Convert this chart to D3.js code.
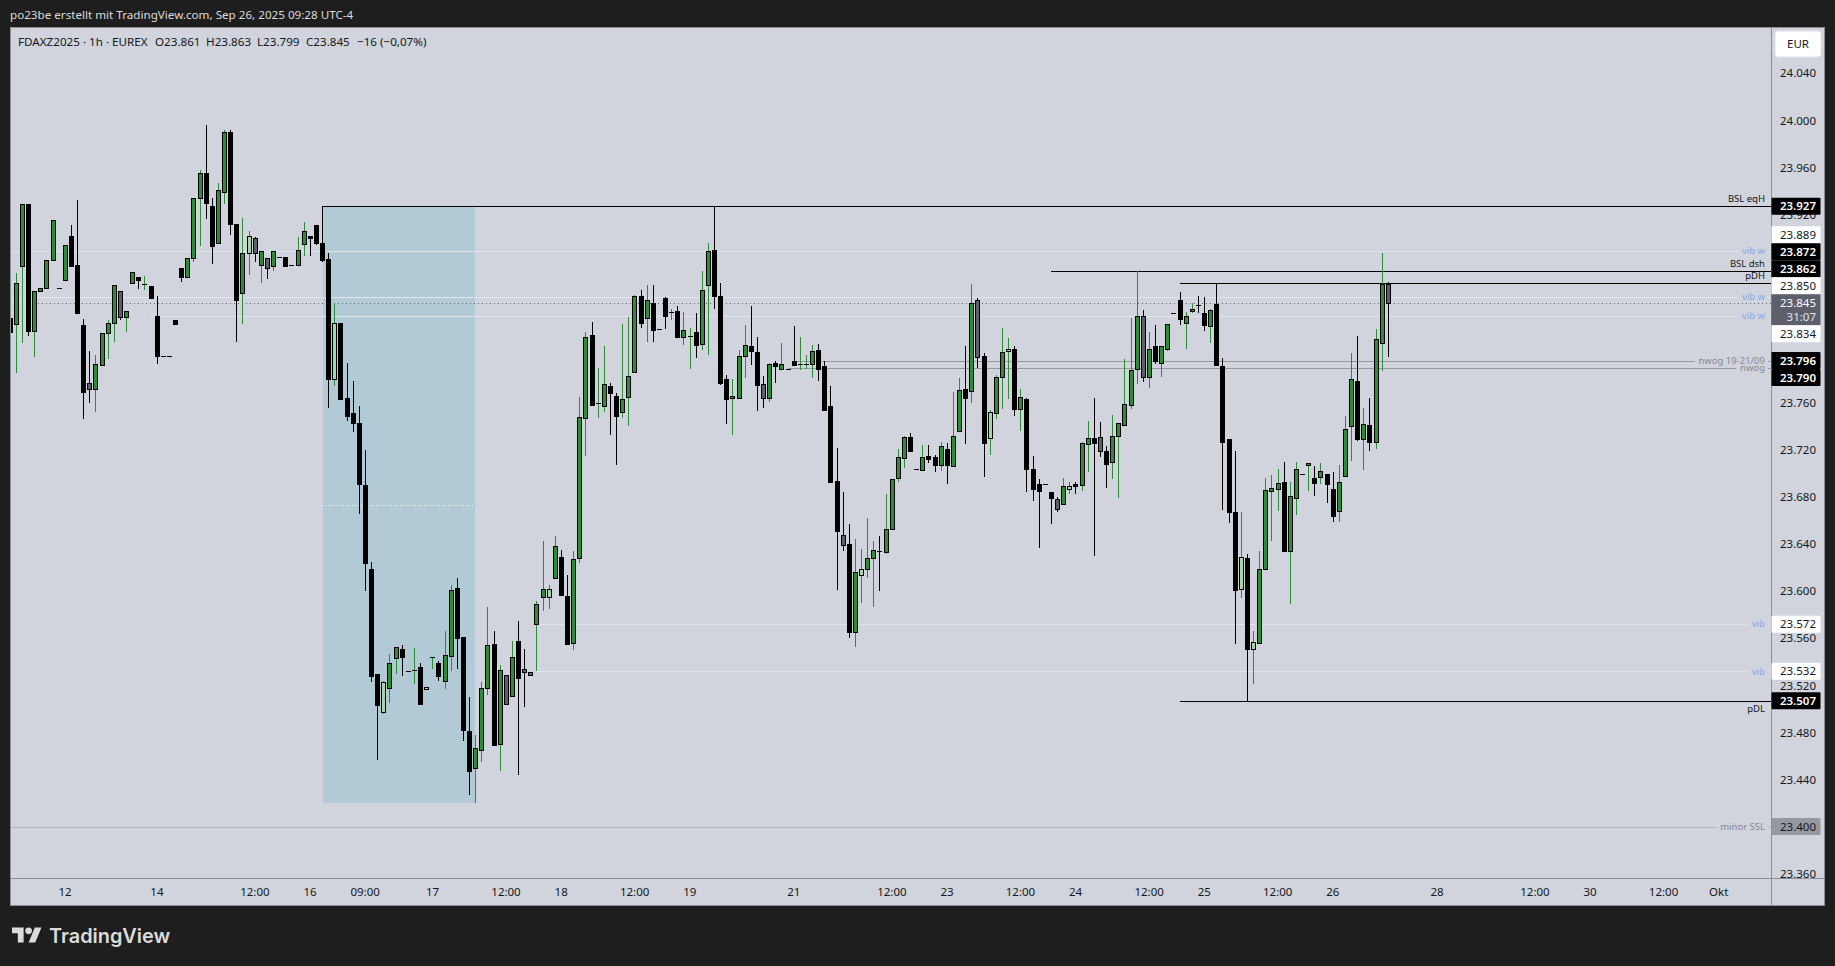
<!DOCTYPE html>
<html lang="de">
    <head>
        <title>FDAXZ2025 1h</title>
        <meta charset="UTF-8">
        <script src="https://d3js.org/d3.v7.min.js"></script>
        <style>
        html, body{
            margin:0;
            padding:0;
            background:#1e1e1e;
            overflow:hidden;
        }
        text{
            font-family:"Noto Sans", sans-serif;
            font-size:11.5px;
            fill:#131722;
        }
        .header text{
            font-size:11.65px;
            fill:#dbdbdb;
        }
        .legend text{
            font-size:11.65px;
        }
        .level-label{
            font-size:9.5px;
        }
        .logo-text{
            font-family:Inter, sans-serif;
            font-size:19.9px;
            font-weight:600;
            fill:#dbdbdb;
        }
        </style>
    </head>
    <body>
        <svg class="chart" width="1835" height="966"></svg>
    </body>

    <script>
        // hourly candles, prices in index points (23.927 on the axis = 23927)
        var opens = [
            23832,23827,23876,23929,23821,23855,23858,23881,23858,23864,
            23902,23877,23826,23777,23772,23792,23819,23828,23855,23833,
            23862,23867,23861,23859,23834,23800,23800,23830,23875,23867,
            23883,23934,23955,23927,23896,23939,23990,23912,23853,23887,
            23900,23877,23883,23876,23884,23884,23877,23877,23895,23902,
            23911,23896,23882,23780,23828,23764,23751,23743,23690,23619,
            23530,23497,23518,23543,23551,23532,23533,23536,23517,23544,
            23539,23524,23545,23603,23561,23481,23450,23465,23518,23555,
            23470,23529,23511,23558,23534,23531,23572,23595,23595,23611,
            23629,23596,23556,23628,23747,23818,23760,23757,23774,23766,
            23752,23765,23786,23851,23832,23845,23823,23849,23837,23838,
            23816,23817,23820,23810,23860,23890,23851,23780,23764,23764,
            23800,23808,23803,23776,23764,23794,23789,23789,23796,23793,
            23793,23793,23805,23791,23757,23694,23648,23640,23565,23614,
            23619,23628,23634,23633,23653,23696,23713,23731,23704,23703,
            23715,23714,23707,23721,23706,23736,23772,23770,23847,23800,
            23730,23751,23782,23804,23806,23755,23763,23704,23691,23691,
            23684,23678,23674,23687,23691,23690,23725,23730,23731,23719,
            23710,23732,23741,23758,23789,23834,23782,23808,23794,23806,
            23836,23847,23828,23838,23843,23836,23825,23844,23791,23729,
            23667,23602,23628,23551,23556,23619,23685,23687,23693,23634,
            23679,23700,23707,23696,23697,23700,23687,23668,23698,23740,
            23779,23729,23741,23727,23811,23861
        ];
        var highs = [
            23847,23870,23929,23929,23855,23858,23881,23915,23858,23894,
            23911,23932,23831,23804,23801,23819,23830,23860,23855,23838,
            23871,23867,23868,23859,23851,23800,23800,23830,23875,23883,
            23934,23958,23996,23934,23947,23992,23992,23912,23917,23906,
            23901,23889,23883,23889,23884,23884,23877,23901,23914,23902,
            23911,23927,23887,23845,23828,23794,23779,23757,23720,23625,
            23530,23524,23547,23553,23554,23532,23552,23539,23519,23544,
            23541,23566,23605,23611,23561,23510,23478,23523,23587,23566,
            23537,23529,23558,23575,23551,23531,23592,23643,23605,23647,
            23635,23614,23634,23765,23820,23829,23790,23808,23777,23768,
            23827,23833,23852,23856,23860,23860,23823,23850,23840,23842,
            23837,23824,23836,23872,23896,23927,23862,23784,23780,23805,
            23826,23842,23816,23783,23794,23796,23811,23789,23825,23816,
            23801,23809,23810,23796,23774,23722,23684,23657,23644,23636,
            23662,23643,23647,23683,23695,23721,23732,23734,23704,23724,
            23724,23716,23727,23726,23769,23781,23808,23861,23849,23802,
            23754,23784,23824,23815,23808,23772,23764,23715,23695,23691,
            23684,23680,23696,23693,23693,23727,23745,23764,23744,23723,
            23750,23743,23797,23832,23872,23839,23820,23826,23808,23827,
            23836,23854,23837,23845,23851,23850,23840,23862,23798,23729,
            23719,23667,23632,23566,23634,23696,23699,23704,23710,23693,
            23710,23700,23709,23706,23709,23700,23701,23707,23749,23802,
            23817,23756,23764,23823,23887,23863
        ];
        var lows = [
            23820,23785,23811,23817,23799,23855,23858,23881,23858,23864,
            23876,23836,23746,23760,23752,23792,23797,23812,23830,23820,
            23862,23857,23856,23849,23793,23800,23800,23827,23863,23867,
            23880,23893,23916,23878,23896,23929,23903,23812,23827,23869,
            23880,23862,23865,23872,23884,23876,23877,23877,23885,23885,
            23894,23880,23756,23774,23763,23745,23735,23666,23600,23523,
            23457,23496,23505,23530,23528,23532,23521,23504,23517,23534,
            23524,23517,23532,23534,23473,23427,23420,23455,23512,23469,
            23447,23504,23510,23444,23502,23529,23532,23583,23585,23611,
            23597,23555,23550,23624,23715,23758,23747,23752,23733,23707,
            23747,23740,23786,23824,23812,23812,23823,23823,23830,23815,
            23809,23789,23798,23805,23801,23840,23775,23742,23733,23763,
            23781,23792,23753,23756,23761,23777,23789,23789,23792,23788,
            23789,23781,23779,23754,23692,23601,23634,23560,23553,23590,
            23611,23587,23600,23632,23653,23693,23705,23718,23704,23703,
            23709,23701,23702,23691,23706,23736,23725,23760,23790,23697,
            23716,23746,23755,23763,23749,23736,23684,23677,23637,23691,
            23657,23667,23674,23683,23683,23685,23701,23630,23714,23688,
            23695,23679,23741,23755,23776,23778,23773,23793,23782,23804,
            23836,23826,23806,23836,23836,23821,23811,23792,23669,23658,
            23555,23594,23506,23521,23556,23619,23643,23668,23634,23589,
            23665,23700,23685,23681,23691,23675,23659,23659,23698,23711,
            23728,23703,23719,23721,23787,23799
        ];
        var closes = [
            23820,23862,23929,23821,23855,23858,23881,23915,23858,23894,
            23876,23836,23769,23772,23793,23819,23828,23860,23833,23838,
            23871,23864,23861,23849,23800,23800,23800,23827,23867,23883,
            23934,23955,23930,23893,23941,23990,23912,23847,23887,23902,
            23887,23889,23875,23889,23884,23876,23877,23890,23906,23900,
            23896,23881,23780,23828,23763,23749,23743,23691,23624,23528,
            23503,23523,23539,23553,23544,23532,23533,23504,23519,23544,
            23528,23546,23601,23560,23482,23447,23467,23518,23554,23469,
            23533,23504,23544,23526,23531,23529,23589,23602,23602,23638,
            23597,23555,23627,23748,23816,23758,23760,23776,23768,23749,
            23763,23783,23851,23828,23847,23822,23823,23834,23837,23816,
            23822,23817,23809,23856,23889,23851,23777,23763,23766,23800,
            23809,23804,23775,23764,23793,23791,23793,23789,23792,23793,
            23793,23804,23789,23754,23693,23651,23639,23565,23616,23619,
            23628,23635,23634,23653,23695,23714,23731,23719,23704,23714,
            23712,23707,23723,23707,23732,23771,23764,23845,23799,23726,
            23752,23782,23803,23806,23755,23765,23704,23687,23685,23691,
            23679,23670,23689,23689,23689,23726,23730,23726,23719,23708,
            23732,23743,23759,23788,23834,23782,23806,23796,23808,23827,
            23836,23831,23834,23840,23843,23826,23839,23792,23727,23667,
            23601,23629,23551,23557,23619,23686,23688,23692,23634,23681,
            23704,23700,23709,23692,23702,23691,23664,23693,23738,23780,
            23729,23742,23727,23814,23861,23845
        ];
        // g green, k black, l light green, s slate
        var candleKinds = (
            "kggkggggkg" + "kkksggggsg" + "gkgkkkkkkg" + "ggkkggkkgl" +
            "sgsgkkkggk" + "kkklkkkkkk" + "klggkkgklg" + "kggkkkgggk" +
            "gsgkssgglg" + "kkgggkggkk" + "gggkgkkkgk" + "ggkggkkkgg" +
            "gkksgkgkkg" + "ggkkkkskgl" + "ggkggggkkg" + "kkgkggkgsk" +
            "lgglkgkkkk" + "ksglkggksk" + "gggggsgkgg" + "kkggkkgkkk" +
            "klklggggkg" + "gkgkgkkggg" + "kgkggs"
        ).split("");

        var priceTicks = d3.range(23360, 24041, 40);

        var timeTickBars = [9,24,40,49,58,69,81,90,102,111,128,144,153,165,174,186,195,207,216,233,249,258,270,279];
        var timeTickLabels = ["12","14","12:00","16","09:00","17","12:00","18","12:00","19","21","12:00","23","12:00","24","12:00","25","12:00","26","28","12:00","30","12:00","Okt"];

        var levelPrices = [23927,23872,23862,23889,23850,23834,23572,23532,23796,23790,23507,23400];
        var levelNames = ["BSL eqH","BSL dsh","pDH","vib w","vib w","vib w","vib","vib","nwog 19-21/09","nwog","pDL","minor SSL"];
        var levelKinds = ["key","key","key","vib","vib","vib","vib","vib","nwog","nwog","key","minor"];
        var levelStartBars = [51,170,191,-3,-3,23,86,86,128,127,191,-3];
        var levelLabelSides = ["above","above","above","on","on","on","on","on","on","on","below","on"];

        var lastPrice = 23845;
        var countdown = "31:07";
        var zoneStartBar = 51, zoneEndBar = 76, zoneHigh = 23927, zoneLow = 23420;

        var legendParts = ["FDAXZ2025 · 1h · EUREX","O23.861","H23.863","L23.799","C23.845","−16 (−0,07%)"];
        var legendBars = [18,155,206,257,306,357];

        var bg = "#d1d4dc";
        var kindColor = {g:"#2e8b37", k:"#000000", l:"#a5d6a7", s:"#5d606b"};
        var wickColor = {g:"#2e8b37", k:"#000000", l:"#2e8b37", s:"#000000"};
        var levelStyle = {
            key:{line:"#000000", text:"#131722", tagFill:"#000000", tagText:"#ffffff"},
            vib:{line:"#e0e3eb", text:"#8ba5ec", tagFill:"#ffffff", tagText:"#131722"},
            nwog:{line:"#9598a1", text:"#868993", tagFill:"#000000", tagText:"#ffffff"},
            minor:{line:"#b2b5be", text:"#868993", tagFill:"#9598a1", tagText:"#131722"}
        };

        var paneLeft = 10, paneTop = 27, paneRight = 1771, paneBottom = 878, frameRight = 1824, frameBottom = 905;
        var tagLeft = 1771.5, tagWidth = 49, textRight = 1816;

        var x = d3.scaleLinear().domain([0, 279]).range([10.2, 1719]);
        var y = d3.scaleLinear().domain([24040, 23360]).range([73.3, 873.7]);
        var priceFormat = d3.formatLocale({decimal:",", thousands:".", grouping:[3], currency:["","€"]}).format(",d");

        function crispY(p){ return Math.round(y(p)) + 0.5; }
        function barPixel(i){ return Math.floor(x(i)); }

        var svg = d3.select("svg.chart");

        svg.append("rect")
            .attr("x", paneLeft + 0.5).attr("y", paneTop + 0.5)
            .attr("width", frameRight - paneLeft).attr("height", frameBottom - paneTop)
            .attr("fill", bg).attr("stroke", "#8b8e96");

        svg.append("clipPath").attr("id", "pane")
            .append("rect")
            .attr("x", paneLeft + 1).attr("y", paneTop + 1)
            .attr("width", paneRight - paneLeft - 1).attr("height", paneBottom - paneTop - 1);

        // header and footer
        var header = svg.append("g").attr("class", "header");
        header.append("text").attr("x", 10).attr("y", 19)
            .text("po23be erstellt mit TradingView.com, Sep 26, 2025 09:28 UTC-4");

        var plot = svg.append("g").attr("clip-path", "url(#pane)");

        // blue zone behind the candles
        plot.append("rect")
            .attr("x", barPixel(zoneStartBar) + 1).attr("y", Math.round(y(zoneHigh)))
            .attr("width", barPixel(zoneEndBar) - barPixel(zoneStartBar) - 1)
            .attr("height", Math.round(y(zoneLow)) - Math.round(y(zoneHigh)))
            .attr("fill", "#b2cad5");
        plot.append("line")
            .attr("x1", barPixel(zoneStartBar)).attr("x2", barPixel(zoneEndBar) - 2)
            .attr("y1", crispY((zoneHigh + zoneLow) / 2)).attr("y2", crispY((zoneHigh + zoneLow) / 2))
            .attr("stroke", "#ffffff").attr("stroke-dasharray", "1 2");

        // horizontal levels
        var levels = levelPrices.map(function(p, i){
            return {price:p, name:levelNames[i], kind:levelKinds[i], start:levelStartBars[i], side:levelLabelSides[i]};
        });

        plot.selectAll("line.level")
            .data(levels)
            .enter()
            .append("line")
            .attr("class", "level")
            .attr("x1", function(d){ return barPixel(d.start); })
            .attr("x2", paneRight)
            .attr("y1", function(d){ return crispY(d.price); })
            .attr("y2", function(d){ return crispY(d.price); })
            .attr("stroke", function(d){ return levelStyle[d.kind].line; });

        plot.append("line")
            .attr("x1", paneLeft).attr("x2", paneRight)
            .attr("y1", crispY(lastPrice)).attr("y2", crispY(lastPrice))
            .attr("stroke", "#5d606b").attr("stroke-dasharray", "1 3");

        // candles
        var barIndex = d3.range(opens.length);
        var candle = plot.selectAll("g.candle")
            .data(barIndex)
            .enter()
            .append("g")
            .attr("class", "candle");

        candle.append("line")
            .attr("x1", function(i){ return barPixel(i) + 0.5; })
            .attr("x2", function(i){ return barPixel(i) + 0.5; })
            .attr("y1", function(i){ return Math.round(y(highs[i])); })
            .attr("y2", function(i){ return Math.round(y(lows[i])); })
            .attr("stroke", function(i){ return wickColor[candleKinds[i]]; });

        function bodyTop(i){ return Math.round(y(Math.max(opens[i], closes[i]))); }
        function bodyBottom(i){ return Math.round(y(Math.min(opens[i], closes[i]))); }

        candle.append("rect")
            .attr("x", function(i){ return barPixel(i) - 2; })
            .attr("y", bodyTop)
            .attr("width", 5)
            .attr("height", function(i){ return bodyBottom(i) - bodyTop(i) + 1; })
            .attr("fill", "#000");

        candle.filter(function(i){ return candleKinds[i] != "k" && bodyBottom(i) - bodyTop(i) >= 2; })
            .append("rect")
            .attr("x", function(i){ return barPixel(i) - 1; })
            .attr("y", function(i){ return bodyTop(i) + 1; })
            .attr("width", 3)
            .attr("height", function(i){ return bodyBottom(i) - bodyTop(i) - 1; })
            .attr("fill", function(i){ return kindColor[candleKinds[i]]; });

        // level names, with a gap cut out of the line when they sit on it
        var labelEnd = 1765;
        var labels = svg.append("g");
        levels.forEach(function(d){
            var ly = y(d.price);
            if(d.side == "above") ly -= 7.5;
            if(d.side == "below") ly += 8.5;
            var holder = labels.append("g");
            var t = holder.append("text")
                .attr("class", "level-label")
                .attr("x", labelEnd).attr("y", ly)
                .attr("dy", "0.35em").attr("text-anchor", "end")
                .style("fill", levelStyle[d.kind].text)
                .text(d.name);
            if(d.side == "on"){
                var w = t.node().getComputedTextLength();
                holder.insert("rect", "text")
                    .attr("x", labelEnd - w - 4).attr("y", ly - 3)
                    .attr("width", w + 7).attr("height", 6)
                    .attr("fill", bg);
            }
        });

        // chart legend
        svg.append("g").attr("class", "legend")
            .selectAll("text")
            .data(legendParts)
            .enter()
            .append("text")
            .attr("x", function(d, i){ return legendBars[i]; })
            .attr("y", 46)
            .text(function(d){ return d; });

        // axes
        var timeAxis = svg.append("g")
            .attr("transform", "translate(-0.8," + paneBottom + ")")
            .call(d3.axisBottom(x).tickValues(timeTickBars).tickSize(0).tickPadding(9.5)
                .tickFormat(function(d, i){ return timeTickLabels[i]; }));
        timeAxis.select(".domain").remove();
        timeAxis.attr("font-family", null).attr("font-size", null);

        // price tags: the last price stays put, the others are pushed away from it
        var tagHeight = 17, lastHeight = 31;
        var tags = levels.map(function(d){
            return {price:d.price, kind:d.kind, center:y(d.price), height:tagHeight};
        });
        tags.push({price:lastPrice, kind:"last", center:y(lastPrice), height:lastHeight});
        tags.sort(function(a, b){ return b.price - a.price; });
        var anchor = tags.findIndex(function(d){ return d.kind == "last"; });
        var lastTop = y(lastPrice) - 8.5;
        var edge = lastTop;
        d3.range(anchor - 1, -1, -1).forEach(function(i){
            tags[i].center = Math.min(tags[i].center, edge - tagHeight / 2);
            edge = tags[i].center - tagHeight / 2;
        });
        edge = lastTop + lastHeight;
        d3.range(anchor + 1, tags.length).forEach(function(i){
            tags[i].center = Math.max(tags[i].center, edge + tagHeight / 2);
            edge = tags[i].center + tagHeight / 2;
        });

        // ticks that a stack of tags covers completely are not drawn at all
        function tagTop(d){ return d.kind == "last" ? lastTop : d.center - tagHeight / 2; }
        function tagBottom(d){ return d.kind == "last" ? lastTop + lastHeight : d.center + tagHeight / 2; }
        var visibleTicks = priceTicks.filter(function(p){
            var top = y(p) - 5, bottom = y(p) + 5;
            return !tags.some(function(a){
                return tags.some(function(b){ return tagTop(a) <= top && tagBottom(b) >= bottom && tagTop(b) - tagBottom(a) <= 1 && tagTop(b) >= tagTop(a); });
            });
        });

        var priceAxis = svg.append("g")
            .attr("transform", "translate(" + textRight + ",0)")
            .call(d3.axisRight(y).tickValues(visibleTicks).tickSize(0).tickPadding(0).tickFormat(priceFormat));
        priceAxis.select(".domain").remove();
        priceAxis.attr("font-family", null).attr("font-size", null);
        priceAxis.selectAll("text").attr("text-anchor", "end");

        svg.append("line")
            .attr("x1", paneLeft).attr("x2", frameRight)
            .attr("y1", paneBottom + 0.5).attr("y2", paneBottom + 0.5)
            .attr("stroke", "#8b8e96");
        svg.append("line")
            .attr("x1", paneRight + 0.5).attr("x2", paneRight + 0.5)
            .attr("y1", paneTop).attr("y2", frameBottom)
            .attr("stroke", "#8b8e96");

        var tagGroup = svg.append("g");
        tags.forEach(function(d){
            if(d.kind == "last"){
                tagGroup.append("rect")
                    .attr("x", tagLeft).attr("y", lastTop)
                    .attr("width", tagWidth).attr("height", lastHeight).attr("rx", 1)
                    .attr("fill", "#5d606b");
                tagGroup.append("text")
                    .attr("x", textRight).attr("y", y(lastPrice)).attr("dy", "0.35em")
                    .attr("text-anchor", "end").style("fill", "#ffffff")
                    .text(priceFormat(lastPrice));
                tagGroup.append("text")
                    .attr("x", textRight).attr("y", y(lastPrice) + 14).attr("dy", "0.35em")
                    .attr("text-anchor", "end").style("fill", "#e0e3eb")
                    .text(countdown);
                return;
            }
            var style = levelStyle[d.kind];
            tagGroup.append("rect")
                .attr("x", tagLeft).attr("y", d.center - tagHeight / 2)
                .attr("width", tagWidth).attr("height", tagHeight).attr("rx", 1)
                .attr("fill", style.tagFill);
            tagGroup.append("text")
                .attr("x", textRight).attr("y", d.center).attr("dy", "0.35em")
                .attr("text-anchor", "end").style("fill", style.tagText)
                .style("font-weight", style.tagFill == "#000000" ? 600 : 400)
                .text(priceFormat(d.price));
        });

        // currency button
        svg.append("rect")
            .attr("x", 1775).attr("y", 31).attr("width", 46).attr("height", 26).attr("rx", 3)
            .attr("fill", "#ffffff").attr("stroke", "#e0e3eb");
        svg.append("text")
            .attr("x", 1798).attr("y", 44).attr("dy", "0.35em").attr("text-anchor", "middle")
            .text("EUR");

        // TradingView mark in the footer
        var logo = svg.append("g").attr("transform", "translate(12,927.5) scale(0.83) translate(0,-4)");
        logo.append("path").attr("d", "M14 22H7V11H0V4h14v18zM28 22h-8l7.5-18h8L28 22z").attr("fill", "#dbdbdb");
        logo.append("circle").attr("cx", 20).attr("cy", 8).attr("r", 4).attr("fill", "#dbdbdb");
        svg.append("text").attr("class", "logo-text").attr("x", 49).attr("y", 943).text("TradingView");
    </script>
</html>
